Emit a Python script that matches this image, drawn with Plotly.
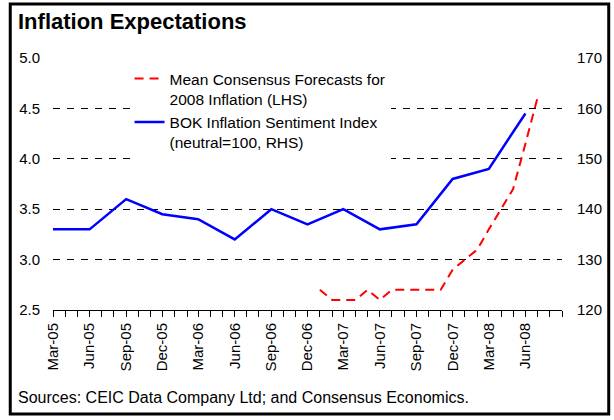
import plotly.graph_objects as go

# ---- data ----
blue_dates = ["2005-03-01", "2005-06-01", "2005-09-01", "2005-12-01",
              "2006-03-01", "2006-06-01", "2006-09-01", "2006-12-01",
              "2007-03-01", "2007-06-01", "2007-09-01", "2007-12-01",
              "2008-03-01", "2008-06-01"]
blue_values = [136, 136, 142, 139, 138, 134, 140, 137, 140, 136, 137, 146, 148, 159]

red_dates = ["2007-01-01", "2007-02-01", "2007-03-01", "2007-04-01", "2007-05-01",
             "2007-06-01", "2007-07-01", "2007-08-01", "2007-09-01", "2007-10-01",
             "2007-11-01", "2007-12-01", "2008-01-01", "2008-02-01", "2008-03-01",
             "2008-04-01", "2008-05-01", "2008-06-01", "2008-07-01"]
red_values = [2.7, 2.6, 2.6, 2.6, 2.7, 2.6, 2.7, 2.7, 2.7, 2.7, 2.7, 2.9, 3.0, 3.1,
              3.3, 3.5, 3.7, 4.15, 4.6]

tick_dates = blue_dates
tick_labels = ["Mar-05", "Jun-05", "Sep-05", "Dec-05", "Mar-06", "Jun-06", "Sep-06",
               "Dec-06", "Mar-07", "Jun-07", "Sep-07", "Dec-07", "Mar-08", "Jun-08"]

red_name = "Mean Consensus Forecasts for<br>2008 Inflation (LHS)"
blue_name = "BOK Inflation Sentiment Index<br>(neutral=100, RHS)"
title_text = "Inflation Expectations"
source_text = "Sources: CEIC Data Company Ltd; and Consensus Economics."

FONT = "Liberation Sans, Arial, sans-serif"
W, H = 614, 420
L, R, T, B = 53, 49, 58, 110
PW, PH = W - L - R, H - T - B


def px_x(p):
    return (p - L) / PW


def px_y(p):
    return (H - B - p) / PH


fig = go.Figure()
fig.add_trace(go.Scatter(
    x=red_dates, y=red_values, name=red_name, mode="lines", yaxis="y",
    line=dict(color="#FF0000", width=2, dash="9px,6px")))
fig.add_trace(go.Scatter(
    x=blue_dates, y=blue_values, name=blue_name, mode="lines", yaxis="y2",
    line=dict(color="#0000FF", width=2.5)))

fig.update_layout(
    width=W, height=H, autosize=False,
    margin=dict(l=L, r=R, t=T, b=B),
    paper_bgcolor="white", plot_bgcolor="white",
    font=dict(family=FONT, size=15, color="black"),
    showlegend=True,
    legend=dict(x=px_x(130), y=px_y(62), xanchor="left", yanchor="top",
                bgcolor="white", borderwidth=0, valign="top",
                font=dict(family=FONT, size=15.5, color="black"),
                tracegroupgap=7, traceorder="normal"),
    xaxis=dict(type="date", range=["2005-03-01", "2008-09-01"],
               tickmode="array", tickvals=tick_dates, ticktext=tick_labels,
               tickangle=-90, ticks="outside", ticklen=6, tickcolor="black",
               tickwidth=1, showline=True, linecolor="black", linewidth=1,
               showgrid=False, zeroline=False,
               tickfont=dict(family=FONT, size=15, color="black"),
               minor=dict(tick0="2005-03-01", dtick="M1", ticks="outside", ticklen=6,
                          tickcolor="black", tickwidth=1, showgrid=False)),
    yaxis=dict(range=[2.5, 5.0], dtick=0.5, tick0=2.5, tickformat=".1f",
               showgrid=True, gridcolor="black", gridwidth=1, griddash="7px,7px",
               zeroline=False, showline=False, ticks="", ticklabelstandoff=12,
               tickfont=dict(family=FONT, size=15, color="black")),
    yaxis2=dict(range=[120, 170], dtick=10, tick0=120, overlaying="y", side="right",
                showgrid=False, zeroline=False, showline=False, ticks="",
                ticklabelstandoff=14,
                tickfont=dict(family=FONT, size=15, color="black")),
    title=dict(text="<b>" + title_text + "</b>", x=18 / W, xanchor="left",
               xref="container", y=1 - 21 / H, yanchor="middle", yref="container",
               font=dict(family=FONT, size=22, color="black")),
    annotations=[dict(text=source_text, xref="paper", yref="paper",
                      x=px_x(16), y=px_y(397), xanchor="left", yanchor="middle",
                      showarrow=False,
                      font=dict(family=FONT, size=16, color="black"))],
    shapes=[dict(type="rect", xref="paper", yref="paper",
                 x0=px_x(10), x1=px_x(612), y0=px_y(4), y1=px_y(414),
                 line=dict(color="black", width=3), fillcolor="rgba(0,0,0,0)",
                 layer="above")],
)

fig.write_html("out.html", config={"displayModeBar": False},
               post_script="document.body.style.margin='0';document.body.style.overflow='hidden';")
